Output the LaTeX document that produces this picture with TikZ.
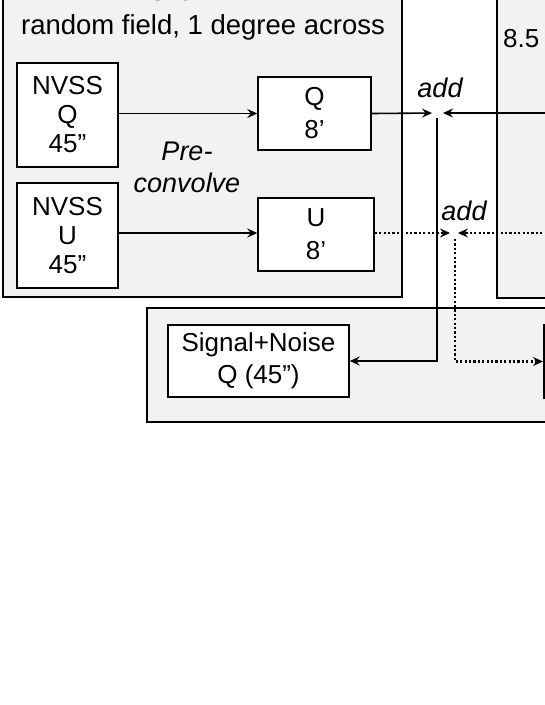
\documentclass[tikz,border=0pt]{standalone}
\usepackage{fontspec}
\setmainfont{Liberation Sans}
\usetikzlibrary{arrows.meta}
\definecolor{panel}{RGB}{242,242,242}
\newcommand\fsA{\fontsize{26}{29}\selectfont}
\newcommand\fsB{\fontsize{26}{33}\selectfont}
\newcommand\fsC{\fontsize{26}{32}\selectfont}
\newcommand\fsT{\fontsize{27.5}{30}\selectfont}
\newcommand\fsI{\fontsize{27}{30}\selectfont}
\tikzset{
  panelbox/.style={draw=black, fill=panel, line width=1.8pt},
  bigpanel/.style={draw=black, fill=panel, line width=2.4pt},
  box/.style={draw=black, fill=white, line width=1.5pt, align=center, inner sep=0pt},
  arr/.style={line width=1.6pt, -{Stealth[length=10pt,width=9pt,inset=3.5pt]}},
  dotarr/.style={line width=2.2pt, dash pattern=on 2.2pt off 2.2pt, -{Stealth[length=10pt,width=9pt,inset=3.5pt]}},
  lbl/.style={font=\fsT, inner sep=0pt, anchor=base},
  ilbl/.style={font=\fsI\itshape, inner sep=0pt, anchor=base},
}
\begin{document}
\begin{tikzpicture}[x=1pt,y=-1pt]
\useasboundingbox (0,0) rectangle (545,705);
\clip (0,0) rectangle (545,705);
\fill[white] (0,0) rectangle (545,705);
% panels
\draw[panelbox] (3,-20) rectangle (402,297);
\draw[panelbox] (497,-20) rectangle (620,298);
\draw[bigpanel] (147,308) rectangle (620,422);
% panel titles
\node[lbl] (t1) at (203,0.5) {SIGNAL:};
\node[lbl] (t2) at (203,34) {random field, 1 degree across};
\node[lbl, font=\fsA, anchor=base west] (t3) at (503,47) {8.5};
% boxes
\node[box, font=\fsA, minimum width=101pt, minimum height=104pt] (nq) at (67.5,115) {NVSS\\Q\\45”};
\node[box, font=\fsA, minimum width=101pt, minimum height=105pt] (nu) at (67.5,235.5) {NVSS\\U\\45”};
\node[box, font=\fsB, minimum width=113pt, minimum height=73pt] (qb) at (314.5,113.5) {Q\\8’};
\node[box, font=\fsB, minimum width=116pt, minimum height=73pt] (ub) at (316,234.5) {U\\8’};
\node[box, font=\fsC, minimum width=181pt, minimum height=72pt] (sn) at (258.5,361) {Signal+Noise\\Q (45”)};
\node[box, minimum width=150pt, minimum height=73pt, anchor=west] (rb) at (543,361.5) {};
% labels
\node[ilbl] (pre) at (187,160) {Pre-};
\node[ilbl] (conv) at (187,192) {convolve};
\node[ilbl] (add1) at (440,97) {add};
\node[ilbl] (add2) at (464,220) {add};
% junction points
\coordinate (aQ) at (437,113);
\coordinate (aU) at (455,233);
\coordinate (rQ) at (560,113);
\coordinate (rU) at (560,233);
% connectors
\draw[arr] (nq.east |- qb.west) -- (qb.west);
\draw[arr] (nu.east |- 0,233) -- (ub.west |- 0,233);
\draw[arr, shorten >=5pt] (qb.east) -- (aQ);
\draw[arr, shorten >=6pt] (rQ) -- (aQ);
\draw[arr, shorten <=5pt] (aQ) |- (sn.east);
\draw[dotarr, shorten >=5pt] (ub.east |- aU) -- (aU);
\draw[dotarr, shorten >=3pt] (rU) -- (aU);
\draw[dotarr, shorten <=6pt] (aU) |- (rb.west);
\end{tikzpicture}
\end{document}
